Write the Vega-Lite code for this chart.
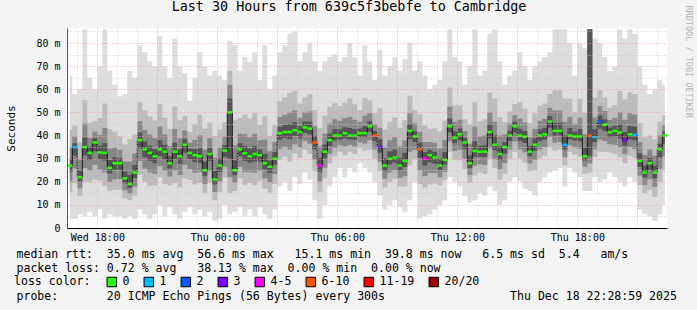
{
"$schema": "https://vega.github.io/schema/vega-lite/v6.json",
"width": 600, "height": 200,
"autosize": "none",
"padding": {"left": 67, "top": 28, "right": 30, "bottom": 82},
"background": "#f3f3f3",
"config": {"view": {"fill": "white", "stroke": null}, "font": "DejaVu Sans Mono"},
"title": {"text": "Last 30 Hours from 639c5f3bebfe to Cambridge", "font": "DejaVu Sans Mono", "fontSize": 13.4, "fontWeight": "normal", "color": "black", "anchor": "middle", "frame": "group", "dx": -18, "offset": -19, "baseline": "alphabetic"},
"data": {"values": [
{"t":"2025-12-17T16:37:30","med":27,"loss":"0","a0":4,"a1":66,"b0":15.5,"b1":42.6,"c0":20.1,"c1":34.8,"d0":24.2,"d1":30.1},
{"t":"2025-12-17T16:52:30","med":35,"loss":"1","a0":4,"a1":58,"b0":19.5,"b1":44.2,"c0":25.7,"c1":39.6,"d0":31.3,"d1":36.8},
{"t":"2025-12-17T17:07:30","med":22,"loss":"0","a0":6,"a1":60,"b0":14,"b1":37.2,"c0":17.2,"c1":29.6,"d0":20.1,"d1":25},
{"t":"2025-12-17T17:22:30","med":35,"loss":"0","a0":5,"a1":86,"b0":20,"b1":55.4,"c0":26,"c1":45.2,"d0":31.4,"d1":39.1},
{"t":"2025-12-17T17:37:30","med":32.5,"loss":"0","a0":7,"a1":65,"b0":19.8,"b1":45.5,"c0":24.9,"c1":39,"d0":29.4,"d1":35.1},
{"t":"2025-12-17T17:52:30","med":37,"loss":"0","a0":5,"a1":60,"b0":21,"b1":46.2,"c0":27.4,"c1":41.6,"d0":33.2,"d1":38.8},
{"t":"2025-12-17T18:07:30","med":32.7,"loss":"0","a0":8,"a1":70,"b0":20.4,"b1":47.6,"c0":25.3,"c1":40.2,"d0":29.7,"d1":35.7},
{"t":"2025-12-17T18:22:30","med":32.5,"loss":"0","a0":4,"a1":86,"b0":18.3,"b1":53.9,"c0":24,"c1":43.2,"d0":29.1,"d1":36.8},
{"t":"2025-12-17T18:37:30","med":26,"loss":"0","a0":6,"a1":68,"b0":16,"b1":42.8,"c0":20,"c1":34.4,"d0":23.6,"d1":29.4},
{"t":"2025-12-17T18:52:30","med":28,"loss":"0","a0":5,"a1":62,"b0":16.5,"b1":41.6,"c0":21.1,"c1":34.8,"d0":25.2,"d1":30.7},
{"t":"2025-12-17T19:07:30","med":28,"loss":"0","a0":5,"a1":57,"b0":16.5,"b1":39.6,"c0":21.1,"c1":33.8,"d0":25.2,"d1":30.3},
{"t":"2025-12-17T19:22:30","med":21.5,"loss":"0","a0":4,"a1":58,"b0":12.8,"b1":36.1,"c0":16.3,"c1":28.8,"d0":19.4,"d1":24.4},
{"t":"2025-12-17T19:37:30","med":19,"loss":"0","a0":5,"a1":68,"b0":12,"b1":38.6,"c0":14.8,"c1":28.8,"d0":17.3,"d1":22.9},
{"t":"2025-12-17T19:52:30","med":24,"loss":"0","a0":4,"a1":65,"b0":14,"b1":40.4,"c0":18,"c1":32.2,"d0":21.6,"d1":27.3},
{"t":"2025-12-17T20:07:30","med":38,"loss":"0","a0":8,"a1":79,"b0":23,"b1":54.4,"c0":29,"c1":46.2,"d0":34.4,"d1":41.3},
{"t":"2025-12-17T20:22:30","med":34,"loss":"0","a0":6,"a1":76,"b0":20,"b1":50.8,"c0":25.6,"c1":42.4,"d0":30.6,"d1":37.4},
{"t":"2025-12-17T20:37:30","med":32.5,"loss":"0","a0":4,"a1":72,"b0":18.3,"b1":48.3,"c0":24,"c1":40.4,"d0":29.1,"d1":35.7},
{"t":"2025-12-17T20:52:30","med":31,"loss":"0","a0":6,"a1":70,"b0":18.5,"b1":46.6,"c0":23.5,"c1":38.8,"d0":28,"d1":34.1},
{"t":"2025-12-17T21:07:30","med":34,"loss":"0","a0":10,"a1":83,"b0":22,"b1":53.6,"c0":26.8,"c1":43.8,"d0":31.1,"d1":37.9},
{"t":"2025-12-17T21:22:30","med":33,"loss":"0","a0":5,"a1":70,"b0":19,"b1":47.8,"c0":24.6,"c1":40.4,"d0":29.6,"d1":36},
{"t":"2025-12-17T21:37:30","med":28,"loss":"0","a0":9,"a1":65,"b0":18.5,"b1":42.8,"c0":22.3,"c1":35.4,"d0":25.7,"d1":31},
{"t":"2025-12-17T21:52:30","med":33,"loss":"0","a0":6,"a1":82,"b0":19.5,"b1":52.6,"c0":24.9,"c1":42.8,"d0":29.8,"d1":36.9},
{"t":"2025-12-17T22:07:30","med":31,"loss":"0","a0":4,"a1":70,"b0":17.5,"b1":46.6,"c0":22.9,"c1":38.8,"d0":27.8,"d1":34.1},
{"t":"2025-12-17T22:22:30","med":36,"loss":"0","a0":7,"a1":67,"b0":21.5,"b1":48.4,"c0":27.3,"c1":42.2,"d0":32.5,"d1":38.5},
{"t":"2025-12-17T22:37:30","med":32.5,"loss":"0","a0":9,"a1":55,"b0":20.8,"b1":41.5,"c0":25.5,"c1":37,"d0":29.7,"d1":34.3},
{"t":"2025-12-17T22:52:30","med":31.5,"loss":"0","a0":6,"a1":65,"b0":18.8,"b1":44.9,"c0":23.9,"c1":38.2,"d0":28.4,"d1":34.2},
{"t":"2025-12-17T23:07:30","med":31,"loss":"0","a0":8,"a1":76,"b0":19.5,"b1":49,"c0":24.1,"c1":40,"d0":28.2,"d1":34.6},
{"t":"2025-12-17T23:22:30","med":25,"loss":"0","a0":5,"a1":70,"b0":15,"b1":43,"c0":19,"c1":34,"d0":22.6,"d1":28.6},
{"t":"2025-12-17T23:37:30","med":32,"loss":"0","a0":7,"a1":66,"b0":19.5,"b1":45.6,"c0":24.5,"c1":38.8,"d0":29,"d1":34.7},
{"t":"2025-12-17T23:52:30","med":21,"loss":"0","a0":3,"a1":68,"b0":12,"b1":39.8,"c0":15.6,"c1":30.4,"d0":18.8,"d1":24.8},
{"t":"2025-12-18T00:07:30","med":27,"loss":"0","a0":4,"a1":66,"b0":15.5,"b1":42.6,"c0":20.1,"c1":34.8,"d0":24.2,"d1":30.1},
{"t":"2025-12-18T00:22:30","med":33.5,"loss":"0","a0":10,"a1":64,"b0":21.8,"b1":45.7,"c0":26.5,"c1":39.6,"d0":30.7,"d1":35.9},
{"t":"2025-12-18T00:37:30","med":50,"loss":"0","a0":6,"a1":81,"b0":15,"b1":68,"c0":22,"c1":62,"d0":30,"d1":56},
{"t":"2025-12-18T00:52:30","med":25,"loss":"0","a0":7,"a1":79,"b0":16,"b1":46.6,"c0":19.6,"c1":35.8,"d0":22.8,"d1":29.3},
{"t":"2025-12-18T01:07:30","med":34,"loss":"0","a0":9,"a1":68,"b0":21.5,"b1":47.6,"c0":26.5,"c1":40.8,"d0":31,"d1":36.7},
{"t":"2025-12-18T01:22:30","med":32.3,"loss":"0","a0":5,"a1":74,"b0":18.7,"b1":49,"c0":24.1,"c1":40.6,"d0":29,"d1":35.6},
{"t":"2025-12-18T01:37:30","med":31,"loss":"0","a0":8,"a1":72,"b0":19.5,"b1":47.4,"c0":24.1,"c1":39.2,"d0":28.2,"d1":34.3},
{"t":"2025-12-18T01:52:30","med":32,"loss":"0","a0":5,"a1":76,"b0":18.5,"b1":49.6,"c0":23.9,"c1":40.8,"d0":28.8,"d1":35.5},
{"t":"2025-12-18T02:07:30","med":31.5,"loss":"0","a0":9,"a1":64,"b0":20.3,"b1":44.5,"c0":24.8,"c1":38,"d0":28.8,"d1":34.1},
{"t":"2025-12-18T02:22:30","med":28,"loss":"0","a0":6,"a1":79,"b0":17,"b1":48.4,"c0":21.4,"c1":38.2,"d0":25.4,"d1":32.1},
{"t":"2025-12-18T02:37:30","med":26.5,"loss":"0","a0":4,"a1":60,"b0":15.3,"b1":39.9,"c0":19.8,"c1":33.2,"d0":23.8,"d1":29.2},
{"t":"2025-12-18T02:52:30","med":30,"loss":"0","a0":8,"a1":66,"b0":19,"b1":44.4,"c0":23.4,"c1":37.2,"d0":27.4,"d1":32.9},
{"t":"2025-12-18T03:07:30","med":41,"loss":"0","a0":18,"a1":76,"b0":29.5,"b1":55,"c0":34.1,"c1":48,"d0":38.2,"d1":43.8},
{"t":"2025-12-18T03:22:30","med":41.5,"loss":"0","a0":20,"a1":79,"b0":30.8,"b1":56.5,"c0":35.1,"c1":49,"d0":38.9,"d1":44.5},
{"t":"2025-12-18T03:37:30","med":41.5,"loss":"0","a0":16,"a1":84,"b0":28.8,"b1":58.5,"c0":33.9,"c1":50,"d0":38.4,"d1":44.9},
{"t":"2025-12-18T03:52:30","med":42.3,"loss":"0","a0":22,"a1":85,"b0":32.2,"b1":59.4,"c0":36.2,"c1":50.8,"d0":39.9,"d1":45.7},
{"t":"2025-12-18T04:07:30","med":41.5,"loss":"0","a0":19,"a1":72,"b0":30.3,"b1":53.7,"c0":34.8,"c1":47.6,"d0":38.8,"d1":44},
{"t":"2025-12-18T04:22:30","med":43.5,"loss":"0","a0":24,"a1":76,"b0":33.8,"b1":56.5,"c0":37.7,"c1":50,"d0":41.2,"d1":46.1},
{"t":"2025-12-18T04:37:30","med":43,"loss":"0","a0":21,"a1":80,"b0":32,"b1":57.8,"c0":36.4,"c1":50.4,"d0":40.4,"d1":46},
{"t":"2025-12-18T04:52:30","med":37,"loss":"6-10","a0":12,"a1":72,"b0":24.5,"b1":51,"c0":29.5,"c1":44,"d0":34,"d1":39.8},
{"t":"2025-12-18T05:07:30","med":27,"loss":"4-5","a0":4,"a1":68,"b0":15.5,"b1":43.4,"c0":20.1,"c1":35.2,"d0":24.2,"d1":30.3},
{"t":"2025-12-18T05:22:30","med":33,"loss":"0","a0":10,"a1":72,"b0":21.5,"b1":48.6,"c0":26.1,"c1":40.8,"d0":30.2,"d1":36.1},
{"t":"2025-12-18T05:37:30","med":38,"loss":"0","a0":18,"a1":74,"b0":28,"b1":52.4,"c0":32,"c1":45.2,"d0":35.6,"d1":40.9},
{"t":"2025-12-18T05:52:30","med":40,"loss":"0","a0":22,"a1":75,"b0":31,"b1":54,"c0":34.6,"c1":47,"d0":37.8,"d1":42.8},
{"t":"2025-12-18T06:07:30","med":40,"loss":"0","a0":26,"a1":72,"b0":33,"b1":52.8,"c0":35.8,"c1":46.4,"d0":38.3,"d1":42.6},
{"t":"2025-12-18T06:22:30","med":41,"loss":"0","a0":22,"a1":74,"b0":31.5,"b1":54.2,"c0":35.3,"c1":47.6,"d0":38.7,"d1":43.6},
{"t":"2025-12-18T06:37:30","med":40,"loss":"0","a0":26,"a1":80,"b0":33,"b1":56,"c0":35.8,"c1":48,"d0":38.3,"d1":43.2},
{"t":"2025-12-18T06:52:30","med":40,"loss":"0","a0":24,"a1":74,"b0":32,"b1":53.6,"c0":35.2,"c1":46.8,"d0":38.1,"d1":42.7},
{"t":"2025-12-18T07:07:30","med":41,"loss":"0","a0":28,"a1":66,"b0":34.5,"b1":51,"c0":37.1,"c1":46,"d0":39.4,"d1":43},
{"t":"2025-12-18T07:22:30","med":41,"loss":"0","a0":26,"a1":79,"b0":33.5,"b1":56.2,"c0":36.5,"c1":48.6,"d0":39.2,"d1":44},
{"t":"2025-12-18T07:37:30","med":44,"loss":"0","a0":24,"a1":72,"b0":34,"b1":55.2,"c0":38,"c1":49.6,"d0":41.6,"d1":46.2},
{"t":"2025-12-18T07:52:30","med":40,"loss":"6-10","a0":20,"a1":64,"b0":30,"b1":49.6,"c0":34,"c1":44.8,"d0":37.6,"d1":41.9},
{"t":"2025-12-18T08:07:30","med":35,"loss":"3","a0":14,"a1":77,"b0":24.5,"b1":51.8,"c0":28.7,"c1":43.4,"d0":32.5,"d1":38.4},
{"t":"2025-12-18T08:22:30","med":27,"loss":"0","a0":8,"a1":66,"b0":17.5,"b1":42.6,"c0":21.3,"c1":34.8,"d0":24.7,"d1":30.1},
{"t":"2025-12-18T08:37:30","med":30,"loss":"0","a0":10,"a1":70,"b0":20,"b1":46,"c0":24,"c1":38,"d0":27.6,"d1":33.2},
{"t":"2025-12-18T08:52:30","med":30.5,"loss":"0","a0":12,"a1":74,"b0":21.3,"b1":47.9,"c0":25,"c1":39.2,"d0":28.3,"d1":34},
{"t":"2025-12-18T09:07:30","med":27,"loss":"0","a0":9,"a1":68,"b0":18,"b1":43.4,"c0":21.6,"c1":35.2,"d0":24.8,"d1":30.3},
{"t":"2025-12-18T09:22:30","med":29,"loss":"0","a0":7,"a1":73,"b0":18,"b1":46.6,"c0":22.4,"c1":37.8,"d0":26.4,"d1":32.5},
{"t":"2025-12-18T09:37:30","med":42,"loss":"0","a0":12,"a1":80,"b0":27,"b1":57.2,"c0":33,"c1":49.6,"d0":38.4,"d1":45},
{"t":"2025-12-18T09:52:30","med":39.6,"loss":"0","a0":20,"a1":68,"b0":29.8,"b1":51,"c0":33.7,"c1":45.3,"d0":37.2,"d1":41.9},
{"t":"2025-12-18T10:07:30","med":34,"loss":"6-10","a0":4,"a1":72,"b0":19,"b1":49.2,"c0":25,"c1":41.6,"d0":30.4,"d1":37},
{"t":"2025-12-18T10:22:30","med":30,"loss":"4-5","a0":5,"a1":66,"b0":17.5,"b1":44.4,"c0":22.5,"c1":37.2,"d0":27,"d1":32.9},
{"t":"2025-12-18T10:37:30","med":31.5,"loss":"0","a0":6,"a1":60,"b0":18.8,"b1":42.9,"c0":23.9,"c1":37.2,"d0":28.4,"d1":33.8},
{"t":"2025-12-18T10:52:30","med":30.5,"loss":"0","a0":8,"a1":62,"b0":19.3,"b1":43.1,"c0":23.8,"c1":36.8,"d0":27.8,"d1":33},
{"t":"2025-12-18T11:07:30","med":27,"loss":"0","a0":10,"a1":64,"b0":18.5,"b1":41.8,"c0":21.9,"c1":34.4,"d0":25,"d1":30},
{"t":"2025-12-18T11:22:30","med":29.5,"loss":"0","a0":12,"a1":72,"b0":20.8,"b1":46.5,"c0":24.3,"c1":38,"d0":27.4,"d1":32.9},
{"t":"2025-12-18T11:37:30","med":44,"loss":"0","a0":22,"a1":86,"b0":33,"b1":60.8,"c0":37.4,"c1":52.4,"d0":41.4,"d1":47.4},
{"t":"2025-12-18T11:52:30","med":39,"loss":"0","a0":20,"a1":74,"b0":29.5,"b1":53,"c0":33.3,"c1":46,"d0":36.7,"d1":41.8},
{"t":"2025-12-18T12:07:30","med":40.5,"loss":"0","a0":18,"a1":72,"b0":29.3,"b1":53.1,"c0":33.8,"c1":46.8,"d0":37.8,"d1":43},
{"t":"2025-12-18T12:22:30","med":37,"loss":"0","a0":14,"a1":62,"b0":25.5,"b1":47,"c0":30.1,"c1":42,"d0":34.2,"d1":39},
{"t":"2025-12-18T12:37:30","med":28,"loss":"0","a0":11,"a1":70,"b0":19.5,"b1":44.8,"c0":22.9,"c1":36.4,"d0":26,"d1":31.4},
{"t":"2025-12-18T12:52:30","med":33.3,"loss":"0","a0":12,"a1":86,"b0":22.7,"b1":54.4,"c0":26.9,"c1":43.8,"d0":30.7,"d1":37.5},
{"t":"2025-12-18T13:07:30","med":33,"loss":"0","a0":15,"a1":66,"b0":24,"b1":46.2,"c0":27.6,"c1":39.6,"d0":30.8,"d1":35.6},
{"t":"2025-12-18T13:22:30","med":33,"loss":"0","a0":14,"a1":68,"b0":23.5,"b1":47,"c0":27.3,"c1":40,"d0":30.7,"d1":35.8},
{"t":"2025-12-18T13:37:30","med":41.5,"loss":"0","a0":18,"a1":84,"b0":29.8,"b1":58.5,"c0":34.5,"c1":50,"d0":38.7,"d1":44.9},
{"t":"2025-12-18T13:52:30","med":36,"loss":"0","a0":16,"a1":86,"b0":26,"b1":56,"c0":30,"c1":46,"d0":33.6,"d1":40},
{"t":"2025-12-18T14:07:30","med":32,"loss":"0","a0":10,"a1":72,"b0":21,"b1":48,"c0":25.4,"c1":40,"d0":29.4,"d1":35.2},
{"t":"2025-12-18T14:22:30","med":35,"loss":"0","a0":12,"a1":62,"b0":23.5,"b1":45.8,"c0":28.1,"c1":40.4,"d0":32.2,"d1":37.2},
{"t":"2025-12-18T14:37:30","med":40,"loss":"0","a0":20,"a1":66,"b0":30,"b1":50.4,"c0":34,"c1":45.2,"d0":37.6,"d1":42.1},
{"t":"2025-12-18T14:52:30","med":44,"loss":"0","a0":22,"a1":68,"b0":33,"b1":53.6,"c0":37.4,"c1":48.8,"d0":41.4,"d1":45.9},
{"t":"2025-12-18T15:07:30","med":40,"loss":"0","a0":20,"a1":76,"b0":30,"b1":54.4,"c0":34,"c1":47.2,"d0":37.6,"d1":42.9},
{"t":"2025-12-18T15:22:30","med":39.5,"loss":"0","a0":17,"a1":70,"b0":28.3,"b1":51.7,"c0":32.8,"c1":45.6,"d0":36.8,"d1":42},
{"t":"2025-12-18T15:37:30","med":33,"loss":"0","a0":16,"a1":64,"b0":24.5,"b1":45.4,"c0":27.9,"c1":39.2,"d0":31,"d1":35.5},
{"t":"2025-12-18T15:52:30","med":36,"loss":"0","a0":14,"a1":70,"b0":25,"b1":49.6,"c0":29.4,"c1":42.8,"d0":33.4,"d1":38.7},
{"t":"2025-12-18T16:07:30","med":40,"loss":"0","a0":20,"a1":72,"b0":30,"b1":52.8,"c0":34,"c1":46.4,"d0":37.6,"d1":42.6},
{"t":"2025-12-18T16:22:30","med":40.5,"loss":"0","a0":22,"a1":74,"b0":31.3,"b1":53.9,"c0":35,"c1":47.2,"d0":38.3,"d1":43.2},
{"t":"2025-12-18T16:37:30","med":46,"loss":"0","a0":24,"a1":76,"b0":35,"b1":58,"c0":39.4,"c1":52,"d0":43.4,"d1":48.4},
{"t":"2025-12-18T16:52:30","med":42,"loss":"0","a0":25,"a1":86,"b0":33.5,"b1":59.6,"c0":36.9,"c1":50.8,"d0":40,"d1":45.5},
{"t":"2025-12-18T17:07:30","med":42,"loss":"0","a0":26,"a1":86,"b0":34,"b1":59.6,"c0":37.2,"c1":50.8,"d0":40.1,"d1":45.5},
{"t":"2025-12-18T17:22:30","med":36,"loss":"1","a0":18,"a1":86,"b0":27,"b1":56,"c0":30.6,"c1":46,"d0":33.8,"d1":40},
{"t":"2025-12-18T17:37:30","med":40,"loss":"0","a0":26,"a1":80,"b0":33,"b1":56,"c0":35.8,"c1":48,"d0":38.3,"d1":43.2},
{"t":"2025-12-18T17:52:30","med":39.6,"loss":"0","a0":24,"a1":66,"b0":31.8,"b1":50.2,"c0":34.9,"c1":44.9,"d0":37.7,"d1":41.7},
{"t":"2025-12-18T18:07:30","med":39.6,"loss":"0","a0":22,"a1":80,"b0":30.8,"b1":55.8,"c0":34.3,"c1":47.7,"d0":37.5,"d1":42.8},
{"t":"2025-12-18T18:22:30","med":31,"loss":"0","a0":16,"a1":78,"b0":23.5,"b1":49.8,"c0":26.5,"c1":40.4,"d0":29.2,"d1":34.8},
{"t":"2025-12-18T18:37:30","med":40,"loss":"6-10","a0":16,"a1":86,"b0":24,"b1":86,"c0":28,"c1":86,"d0":31,"d1":86},
{"t":"2025-12-18T18:52:30","med":39.3,"loss":"1","a0":22,"a1":82,"b0":30.7,"b1":56.4,"c0":34.1,"c1":47.8,"d0":37.2,"d1":42.7},
{"t":"2025-12-18T19:07:30","med":46,"loss":"2","a0":20,"a1":80,"b0":33,"b1":59.6,"c0":38.2,"c1":52.8,"d0":42.9,"d1":48.7},
{"t":"2025-12-18T19:22:30","med":44.7,"loss":"0","a0":21,"a1":74,"b0":32.9,"b1":56.4,"c0":37.6,"c1":50.6,"d0":41.9,"d1":47},
{"t":"2025-12-18T19:37:30","med":41.4,"loss":"0","a0":24,"a1":68,"b0":32.7,"b1":52,"c0":36.2,"c1":46.7,"d0":39.3,"d1":43.5},
{"t":"2025-12-18T19:52:30","med":42,"loss":"0","a0":22,"a1":70,"b0":32,"b1":53.2,"c0":36,"c1":47.6,"d0":39.6,"d1":44.2},
{"t":"2025-12-18T20:07:30","med":41.3,"loss":"0","a0":20,"a1":86,"b0":30.7,"b1":59.2,"c0":34.9,"c1":50.2,"d0":38.7,"d1":44.9},
{"t":"2025-12-18T20:22:30","med":38,"loss":"3","a0":18,"a1":82,"b0":28,"b1":55.6,"c0":32,"c1":46.8,"d0":35.6,"d1":41.5},
{"t":"2025-12-18T20:37:30","med":40.5,"loss":"0","a0":22,"a1":86,"b0":31.3,"b1":58.7,"c0":35,"c1":49.6,"d0":38.3,"d1":44.1},
{"t":"2025-12-18T20:52:30","med":40.3,"loss":"1","a0":20,"a1":84,"b0":30.2,"b1":57.8,"c0":34.2,"c1":49,"d0":37.9,"d1":43.8},
{"t":"2025-12-18T21:07:30","med":29,"loss":"0","a0":8,"a1":70,"b0":18.5,"b1":45.4,"c0":22.7,"c1":37.2,"d0":26.5,"d1":32.3},
{"t":"2025-12-18T21:22:30","med":24,"loss":"0","a0":6,"a1":62,"b0":15,"b1":39.2,"c0":18.6,"c1":31.6,"d0":21.8,"d1":27},
{"t":"2025-12-18T21:37:30","med":28,"loss":"0","a0":5,"a1":58,"b0":16.5,"b1":40,"c0":21.1,"c1":34,"d0":25.2,"d1":30.4},
{"t":"2025-12-18T21:52:30","med":24,"loss":"0","a0":3,"a1":60,"b0":13.5,"b1":38.4,"c0":17.7,"c1":31.2,"d0":21.5,"d1":26.9},
{"t":"2025-12-18T22:07:30","med":34,"loss":"0","a0":6,"a1":64,"b0":20,"b1":46,"c0":25.6,"c1":40,"d0":30.6,"d1":36.4},
{"t":"2025-12-18T22:22:30","med":40,"loss":"0","a0":10,"a1":62,"b0":25,"b1":48.8,"c0":31,"c1":44.4,"d0":36.4,"d1":41.8}
]},
"layer": [
  {"mark": {"type": "area", "interpolate": "step", "color": "#dddddd"},
   "encoding": {
     "x": {"field": "t", "type": "temporal",
       "scale": {"domain": [{"year": 2025, "month": 12, "date": 17, "hours": 16, "minutes": 28, "seconds": 59}, {"year": 2025, "month": 12, "date": 18, "hours": 22, "minutes": 28, "seconds": 59}]},
       "axis": {
         "orient": "bottom",
         "title": ["median\u00a0rtt:\u00a0\u00a035.0\u00a0ms\u00a0avg\u00a0\u00a056.6\u00a0ms\u00a0max\u00a0\u00a0\u00a015.1\u00a0ms\u00a0min\u00a0\u00a039.8\u00a0ms\u00a0now\u00a0\u00a0\u00a06.5\u00a0ms\u00a0sd\u00a0\u00a05.4\u00a0\u00a0\u00a0am/s",
                   "packet\u00a0loss:\u00a00.72\u00a0%\u00a0avg\u00a0\u00a0\u00a038.13\u00a0%\u00a0max\u00a0\u00a00.00\u00a0%\u00a0min\u00a0\u00a00.00\u00a0%\u00a0now"],
         "titleFont": "DejaVu Sans Mono", "titleFontSize": 11.56, "titleFontWeight": "normal", "titleColor": "black",
         "titleAlign": "left", "titleBaseline": "top", "titleX": -51, "titleY": 20, "titleLineHeight": 14,
         "tickCount": 30,
         "labelExpr": "hours(datum.value) % 6 == 0 ? timeFormat(datum.value, '%a %H:%M') : ''",
         "labelFont": "DejaVu Sans Mono", "labelFontSize": 10, "labelColor": "black", "labelPadding": 4, "labelOverlap": false, "labelFlush": false,
         "ticks": false,
         "grid": true, "gridColor": {"condition": {"test": "hours(datum.value) % 3 == 0", "value": "#f0a0a0"}, "value": "#cccccc"}, "gridDash": [1, 2],
         "domainColor": "black", "zindex": 1}},
     "y": {"field": "a0", "type": "quantitative", "scale": {"domain": [0, 86.5], "nice": false},
       "axis": {"orient": "left", "values": [0,5,10,15,20,25,30,35,40,45,50,55,60,65,70,75,80,85],
         "title": "Seconds", "titleFont": "DejaVu Sans Mono", "titleFontSize": 11, "titleFontWeight": "normal", "titleColor": "black",
         "titleAngle": -90, "titleX": -56, "titleY": 100, "titleAlign": "center", "titleBaseline": "middle",
         "labelExpr": "datum.value % 10 == 0 ? (datum.value == 0 ? '0\u00a0\u00a0' : datum.value + '\u00a0m') : ''",
         "labelFont": "DejaVu Sans Mono", "labelFontSize": 10, "labelColor": "black", "labelPadding": 7, "labelOverlap": false, "labelFlush": false,
         "ticks": false, "grid": true,
         "gridColor": {"condition": {"test": "datum.value % 10 == 0", "value": "#f0a0a0"}, "value": "#cccccc"}, "gridDash": [1, 2],
         "domainColor": "#555555", "zindex": 1}},
     "y2": {"field": "a1"}}},
  {"mark": {"type": "area", "interpolate": "step", "color": "#bbbbbb"},
   "encoding": {"x": {"field": "t", "type": "temporal", "axis": null},
     "y": {"field": "b0", "type": "quantitative", "scale": {"domain": [0, 86.5], "nice": false}, "axis": null}, "y2": {"field": "b1"}}},
  {"mark": {"type": "area", "interpolate": "step", "color": "#888888"},
   "encoding": {"x": {"field": "t", "type": "temporal", "axis": null},
     "y": {"field": "c0", "type": "quantitative", "scale": {"domain": [0, 86.5], "nice": false}, "axis": null}, "y2": {"field": "c1"}}},
  {"mark": {"type": "area", "interpolate": "step", "color": "#555555"},
   "encoding": {"x": {"field": "t", "type": "temporal", "axis": null},
     "y": {"field": "d0", "type": "quantitative", "scale": {"domain": [0, 86.5], "nice": false}, "axis": null}, "y2": {"field": "d1"}}},
  {"mark": {"type": "line", "interpolate": "step", "color": "#1a1a1a", "strokeWidth": 1},
   "encoding": {"x": {"field": "t", "type": "temporal", "axis": null},
     "y": {"field": "med", "type": "quantitative", "scale": {"domain": [0, 86.5], "nice": false}, "axis": null}}},
  {"mark": {"type": "tick", "orient": "horizontal", "thickness": 2.5, "size": 5, "opacity": 1},
   "encoding": {
     "x": {"field": "t", "type": "temporal",
       "axis": {"orient": "top", "labels": false, "ticks": false, "domain": false, "grid": false,
         "title": "probe:\u00a0\u00a0\u00a0\u00a0\u00a0\u00a0\u00a020\u00a0ICMP\u00a0Echo\u00a0Pings\u00a0(56\u00a0Bytes)\u00a0every\u00a0300s\u00a0\u00a0\u00a0\u00a0\u00a0\u00a0\u00a0\u00a0\u00a0\u00a0\u00a0\u00a0\u00a0\u00a0\u00a0\u00a0\u00a0\u00a0Thu\u00a0Dec\u00a018\u00a022:28:59\u00a02025",
         "titleFont": "DejaVu Sans Mono", "titleFontSize": 11.56, "titleFontWeight": "normal", "titleColor": "black",
         "titleAlign": "left", "titleBaseline": "top", "titleX": -51, "titleY": 262}},
     "y": {"field": "med", "type": "quantitative", "scale": {"domain": [0, 86.5], "nice": false},
       "axis": {"orient": "right", "title": "RRDTOOL / TOBI OETIKER", "labels": false, "ticks": false, "domain": false, "grid": false,
         "titleFont": "DejaVu Sans Mono", "titleFontSize": 8.5, "titleFontWeight": "normal", "titleColor": "#b4b4b4",
         "titleAngle": 90, "titleX": 21.5, "titleY": -23, "titleAlign": "left", "titleBaseline": "middle"}},
     "color": {"field": "loss", "type": "nominal",
       "scale": {"domain": ["0","1","2","3","4-5","6-10","11-19","20/20"], "range": ["#26ff00","#00b8ff","#0059ff","#7e00ff","#ff00ff","#ff5500","#ff0000","#a10000"]},
       "legend": {"title": "loss color:", "orient": "none", "legendX": -53, "legendY": 248, "direction": "horizontal",
         "titleOrient": "left", "titleFont": "DejaVu Sans Mono", "titleFontSize": 11.56, "titleFontWeight": "normal", "titleColor": "black", "titlePadding": 15,
         "labelFont": "DejaVu Sans Mono", "labelFontSize": 11.56, "labelColor": "black", "labelOffset": 5, "columnPadding": 12,
         "symbolType": "square", "symbolSize": 90, "symbolStrokeColor": "black", "symbolStrokeWidth": 1, "symbolOpacity": 1}}}}
],
"resolve": {"axis": {"x": "independent", "y": "independent"}}
}
